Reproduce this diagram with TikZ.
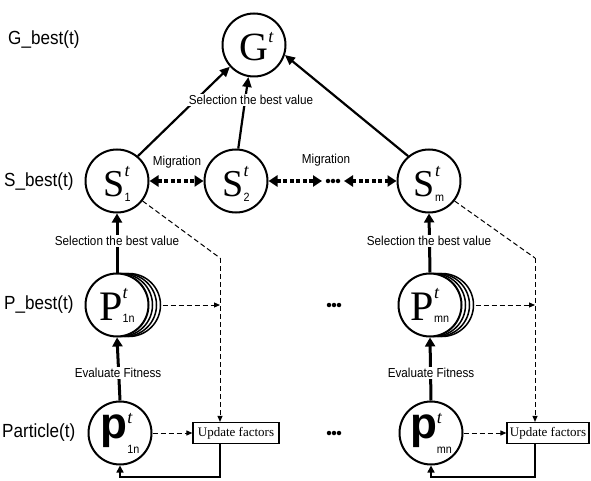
\documentclass[tikz,border=0pt]{standalone}
\usepackage{fontspec}
\setmainfont{Liberation Serif}
\setsansfont{Liberation Sans}
\newfontfamily\labfont[FakeStretch=0.9]{Liberation Sans}
\usetikzlibrary{arrows.meta,calc}
\newcommand\ctext[5]{{#1#2}\makebox[0pt][l]{\raisebox{#3}{\fontsize{18}{18}\selectfont\rmfamily\itshape t}}\raisebox{#4}{\fontsize{12}{12}\selectfont\labfont #5}}
\tikzset{
  circ/.style={circle, draw, line width=2pt, minimum size=63pt, inner sep=0pt, fill=white, text height=31pt, text depth=0pt},
  pcirc/.style={circ, text height=10pt},
  rowlab/.style={anchor=west, inner sep=0pt, font=\labfont\fontsize{19}{19}\selectfont},
  smalllab/.style={fill=white, inner sep=1.5pt, font=\labfont\fontsize{13}{13}\selectfont},
  thickarr/.style={line width=3pt, -{Triangle[length=9pt,width=10pt]}},
  diagarr/.style={line width=2.2pt, -{Triangle[length=10pt,width=9pt]}},
  mig/.style={line width=3.2pt, dash pattern=on 4pt off 2.5pt, {Triangle[length=9pt,width=11pt]}-{Triangle[length=9pt,width=11pt]}},
  dasharr/.style={line width=1pt, dash pattern=on 5pt off 3pt, -{Triangle[length=6pt,width=5pt]}},
  dashline/.style={line width=1pt, dash pattern=on 5pt off 3pt},
  fback/.style={line width=1.5pt, -{Triangle[length=7pt,width=7pt]}},
  ubox/.style={draw, line width=1.2pt, minimum width=86pt, minimum height=21pt, inner sep=1pt, font=\rmfamily\fontsize{13}{13}\selectfont, fill=white},
  stack/.style={circle, draw, line width=1.5pt, minimum size=63pt, inner sep=0pt, fill=white},
  dotty/.style={fill=black, draw=none, circle, inner sep=0pt, minimum size=4.5pt}
}
\begin{document}
\begin{tikzpicture}[x=1pt,y=-1pt]
\useasboundingbox (0,0) rectangle (591,481);
\fill[white] (0,0) rectangle (591,481);

% row labels
\node[rowlab] (lg) at (8,40) {G\_best(t)};
\node[rowlab] (ls) at (4,182) {S\_best(t)};
\node[rowlab] (lp) at (4,305) {P\_best(t)};
\node[rowlab] (lpa) at (2,433) {Particle(t)};

% main nodes
\node[circ] (G) at (254,45) {\ctext{\fontsize{40}{40}\selectfont}{G}{18pt}{-5pt}{}};
\node[circ] (S1) at (117,181) {\ctext{\fontsize{38}{38}\selectfont}{S}{20pt}{-5pt}{1}};
\node[circ] (S2) at (236,181) {\ctext{\fontsize{38}{38}\selectfont}{S}{20pt}{-5pt}{2}};
\node[circ] (Sm) at (429,181) {\ctext{\fontsize{38}{38}\selectfont}{S}{20pt}{-5pt}{m}};

\node[stack] (P1c) at (129,305) {};
\node[stack] (P1b) at (125,305) {};
\node[stack] (P1a) at (121,305) {};
\node[circ] (P1) at (117,305) {\ctext{\fontsize{42}{42}\selectfont}{P}{22pt}{-2pt}{1n}};
\node[stack] (Pmc) at (442,305) {};
\node[stack] (Pmb) at (438,305) {};
\node[stack] (Pma) at (434,305) {};
\node[circ] (Pm) at (430,305) {\ctext{\fontsize{42}{42}\selectfont}{P}{22pt}{-2pt}{mn}};

\node[pcirc] (p1) at (120,433) {\ctext{\fontsize{44}{44}\selectfont\sffamily\bfseries}{p}{15pt}{-15pt}{1n}};
\node[pcirc] (pm) at (431,433) {\ctext{\fontsize{44}{44}\selectfont\sffamily\bfseries}{p}{15pt}{-15pt}{mn}};

\node[ubox] (U1) at (236,433) {Update factors};
\node[ubox, minimum width=82pt] (Um) at (548,433) {Update factors};

% arrows to G
\draw[diagarr] (S1.50) -- (G.222);
\draw[diagarr] (Sm.130) -- (G.-18);
\draw[diagarr] (S2.86) -- (G.260);
\node[smalllab] (selg) at (251,100) {Selection the best value};

% migration
\draw[mig] (S1.east) -- (S2.west);
\coordinate (m1) at (322,181);
\coordinate (m2) at (344,181);
\draw[mig] (S2.east) -- (m1);
\draw[mig] (m2) -- (Sm.west);
\node[dotty] (md1) at (328,181) {};
\node[dotty] (md2) at (333,181) {};
\node[dotty] (md3) at (338,181) {};
\node[smalllab, fill=none] (mig1) at (177,162) {Migration};
\node[smalllab, fill=none] (mig2) at (326,160) {Migration};

% vertical arrows
\draw[thickarr] (P1.north) -- (S1.south);
\node[smalllab] (sel1) at (117,241) {Selection the best value};
\draw[thickarr] (Pm.north) -- (Sm.south);
\node[smalllab] (selm) at (429,241) {Selection the best value};
\draw[thickarr] (p1.north) -- (P1.south);
\node[smalllab] (ev1) at (118,373) {Evaluate Fitness};
\draw[thickarr] (pm.north) -- (Pm.south);
\node[smalllab] (evm) at (431,373) {Evaluate Fitness};

% dashed control lines
\coordinate (d1) at (220,258);
\coordinate (d1b) at (220,305);
\draw[dashline] (S1.-38) -- (d1);
\draw[dasharr] (d1) -- (d1 |- U1.north);
\draw[dasharr] ([xshift=13pt]P1.east) -- (d1b);
\coordinate (d2) at (535,258);
\coordinate (d2b) at (535,305);
\draw[dashline] (Sm.-38) -- (d2);
\draw[dasharr] (d2) -- (d2 |- Um.north);
\draw[dasharr] ([xshift=13pt]Pm.east) -- (d2b);
\draw[dasharr] (p1.east) -- (U1.west);
\draw[dasharr] (pm.east) -- (Um.west);

% feedback
\coordinate (f1) at (220,477);
\coordinate (f2) at (535,477);
\draw[fback] (U1.south -| f1) -- (f1) -| (p1.south);
\draw[fback] (Um.south -| f2) -- (f2) -| (pm.south);

% ellipsis
\foreach \yy/\nm in {305/a,433/b}{
  \node[dotty] (e\nm1) at (329,\yy) {};
  \node[dotty] (e\nm2) at (334,\yy) {};
  \node[dotty] (e\nm3) at (339,\yy) {};
}
\end{tikzpicture}
\end{document}
